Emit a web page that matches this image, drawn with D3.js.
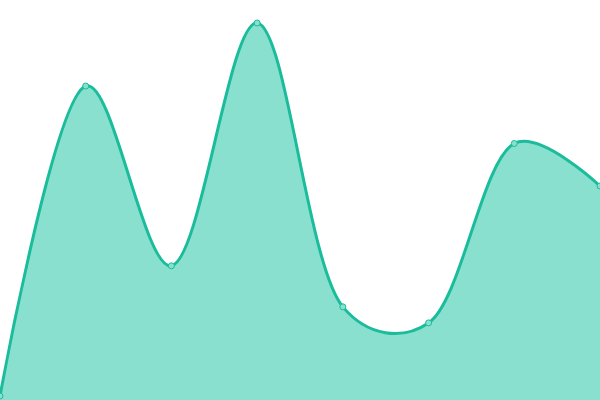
<!DOCTYPE html>
<html>
<head>
<meta charset="utf-8">
<script src="https://cdn.jsdelivr.net/npm/d3@7"></script>
<style>
  html, body { margin: 0; padding: 0; background: #fff; }
  svg { display: block; }
</style>
</head>
<body>
<div id="chart"></div>
<script>
const categories = [0, 1, 2, 3, 4, 5, 6, 7];
const values = [0, 83.1, 34.9, 100, 23.9, 19.6, 67.7, 56.3];

const width = 600;
const height = 400;

const svg = d3.select('#chart')
  .append('svg')
    .attr('width', width)
    .attr('height', height);

const x = d3.scaleLinear()
  .domain([0, categories.length - 1])
  .range([0, width]);

const y = d3.scaleLinear()
  .domain([0, 100])
  .range([396, 23]);

const data = categories.map((c, i) => ({ c, v: values[i] }));

const curve = d3.curveCatmullRom.alpha(0.3);

const area = d3.area()
  .x(d => x(d.c))
  .y0(height)
  .y1(d => y(d.v))
  .curve(curve);

const line = d3.line()
  .x(d => x(d.c))
  .y(d => y(d.v))
  .curve(curve);

svg.append('path')
    .datum(data)
    .attr('d', area)
    .attr('fill', '#8ae0ce');

svg.append('path')
    .datum(data)
    .attr('d', line)
    .attr('fill', 'none')
    .attr('stroke', '#1abc9c')
    .attr('stroke-width', 3);

svg.selectAll('circle')
  .data(data)
  .join('circle')
    .attr('cx', d => x(d.c))
    .attr('cy', d => y(d.v))
    .attr('r', 3)
    .attr('fill', '#8ae0ce')
    .attr('stroke', '#1abc9c')
    .attr('stroke-width', 1);
</script>
</body>
</html>
